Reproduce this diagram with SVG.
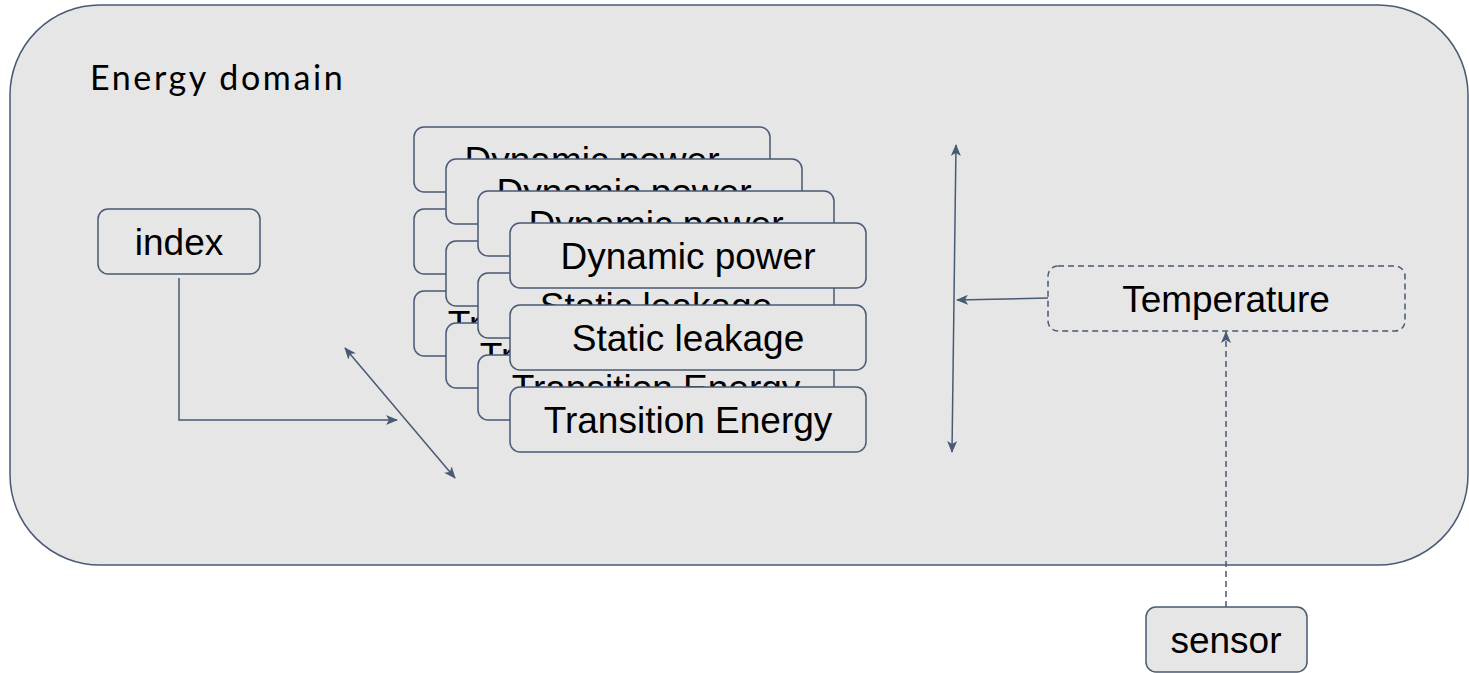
<svg xmlns="http://www.w3.org/2000/svg" width="1469" height="673" viewBox="0 0 1469 673">
<style>
.box{fill:#e6e6e6;stroke:#485a74;stroke-width:1.5}
.dash{fill:#e6e6e6;stroke:#485a74;stroke-width:1.5;stroke-dasharray:6 4}
.t{font-family:"Liberation Sans",Arial,sans-serif;font-size:37px;fill:#000;text-anchor:middle}
.ln{fill:none;stroke:#485a74;stroke-width:1.5}
.dl{fill:none;stroke:#485a74;stroke-width:1.5;stroke-dasharray:6 4}
</style>
<defs>
<marker id="ah" viewBox="0 0 12 10" refX="11" refY="5" markerWidth="12" markerHeight="10" markerUnits="userSpaceOnUse" orient="auto-start-reverse">
<path d="M0,0 L12,5 L0,10 L3,5 Z" fill="#485a74"/>
</marker>
</defs>
<g id="energy-domain">
<rect x="10" y="5" width="1458" height="560" rx="90" ry="90" class="box"/>
<text x="90" y="90" style="font-family:Lato,'Open Sans',sans-serif;font-size:34px;letter-spacing:2.6px;fill:#000">Energy domain</text>
</g>
<g id="index">
<rect x="98" y="209" width="162" height="65" rx="10" class="box"/>
<text x="179" y="255" class="t">index</text>
</g>
<g id="stack-layer-1">
<rect x="414" y="127" width="356" height="65" rx="10" class="box"/>
<text x="592" y="173" class="t">Dynamic power</text>
<rect x="414" y="209" width="356" height="65" rx="10" class="box"/>
<text x="592" y="255" class="t">Static leakage</text>
<rect x="414" y="291" width="356" height="65" rx="10" class="box"/>
<text x="592" y="337" class="t">Transition Energy</text>
</g>
<g id="stack-layer-2">
<rect x="446" y="159" width="356" height="65" rx="10" class="box"/>
<text x="624" y="205" class="t">Dynamic power</text>
<rect x="446" y="241" width="356" height="65" rx="10" class="box"/>
<text x="624" y="287" class="t">Static leakage</text>
<rect x="446" y="323" width="356" height="65" rx="10" class="box"/>
<text x="624" y="369" class="t">Transition Energy</text>
</g>
<g id="stack-layer-3">
<rect x="478" y="191" width="356" height="65" rx="10" class="box"/>
<text x="656" y="237" class="t">Dynamic power</text>
<rect x="478" y="273" width="356" height="65" rx="10" class="box"/>
<text x="656" y="319" class="t">Static leakage</text>
<rect x="478" y="355" width="356" height="65" rx="10" class="box"/>
<text x="656" y="401" class="t">Transition Energy</text>
</g>
<g id="dynamic-power">
<rect x="510" y="223" width="356" height="65" rx="10" class="box"/>
<text x="688" y="269" class="t">Dynamic power</text>
</g>
<g id="static-leakage">
<rect x="510" y="305" width="356" height="65" rx="10" class="box"/>
<text x="688" y="351" class="t">Static leakage</text>
</g>
<g id="transition-energy">
<rect x="510" y="387" width="356" height="65" rx="10" class="box"/>
<text x="688" y="433" class="t">Transition Energy</text>
</g>
<g id="temperature">
<rect x="1048" y="266" width="357" height="65" rx="10" class="dash"/>
<text x="1226" y="312" class="t">Temperature</text>
</g>
<g id="sensor">
<rect x="1146" y="607" width="161" height="65" rx="10" class="box"/>
<text x="1226" y="653" class="t">sensor</text>
</g>
<g id="connectors">
<path d="M179,278 V420 H397" class="ln" marker-end="url(#ah)"/>
<path d="M345,348 L455,478" class="ln" marker-start="url(#ah)" marker-end="url(#ah)"/>
<path d="M956,145 L952,452" class="ln" marker-start="url(#ah)" marker-end="url(#ah)"/>
<path d="M1048,298 L957,300" class="ln" marker-end="url(#ah)"/>
<path d="M1226,607 V332" class="dl" marker-end="url(#ah)"/>
</g>
</svg>
